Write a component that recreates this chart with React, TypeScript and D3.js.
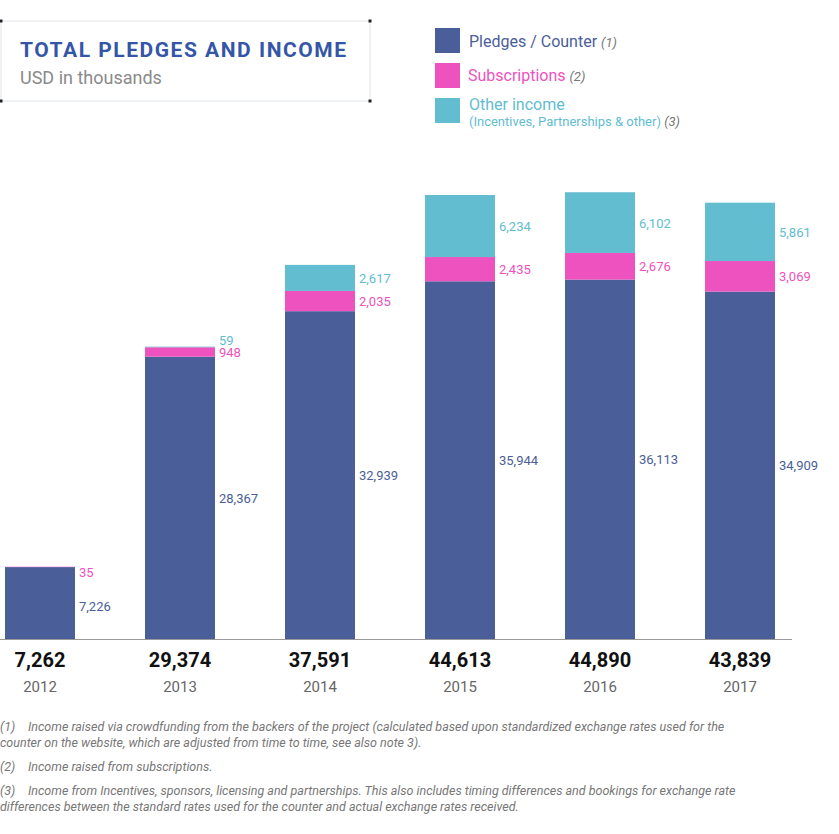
import * as d3 from "d3";

const years = ["2012", "2013", "2014", "2015", "2016", "2017"];
const pledges = [7226, 28367, 32939, 35944, 36113, 34909];
const subscriptions = [35, 948, 2035, 2435, 2676, 3069];
const other = [0, 59, 2617, 6234, 6102, 5861];
const totals = ["7,262", "29,374", "37,591", "44,613", "44,890", "43,839"];
const otherLabels = ["", "59", "2,617", "6,234", "6,102", "5,861"];
const footnotes = [
  ["(1)", "Income raised via crowdfunding from the backers of the project (calculated based upon standardized exchange rates used for the", "counter on the website, which are adjusted from time to time, see also note 3)."],
  ["(2)", "Income raised from subscriptions."],
  ["(3)", "Income from Incentives, sponsors, licensing and partnerships. This also includes timing differences and bookings for exchange rate", "differences between the standard rates used for the counter and actual exchange rates received."],
];

const BLUE = "#4a5e99";
const PINK = "#ee52be";
const TEAL = "#62bdd0";
const FONT = "'Liberation Sans Narrow', 'Roboto', sans-serif";
const fmt = d3.format(",");

export default function App() {
  const W = 839, H = 834;
  const x = d3.scaleBand().domain(years).range([-30, 810]).paddingInner(0.5).paddingOuter(0.25);
  const y = d3.scaleLinear().domain([0, 44613]).range([639, 195]);
  const bw = x.bandwidth();

  return (
    <svg width={W} height={H} style={{ position: "absolute", left: 0, top: 0, fontFamily: FONT }}>
      <rect x={1} y={21} width={369} height={80} fill="#fff" stroke="#dfe4ea" />
      {[[1, 21], [370, 21], [1, 101], [370, 101]].map(([a, b], i) => (
        <rect key={i} x={a - 1.5} y={b - 1.5} width={3} height={3} fill="#222" />
      ))}
      <text x={20} y={57} fill="#3556a8" fontSize={21} fontWeight="bold" textLength={326} fontFamily="Roboto, sans-serif">TOTAL PLEDGES AND INCOME</text>
      <text x={20} y={84} fill="#8a8a8a" fontSize={18}>USD in thousands</text>

      <rect x={435} y={28} width={25} height={25} fill={BLUE} />
      <text x={469} y={47} fill={BLUE} fontSize={16}>Pledges / Counter <tspan fill="#777" fontStyle="italic" fontSize={13}>(1)</tspan></text>
      <rect x={435} y={63} width={25} height={25} fill={PINK} />
      <text x={468} y={81} fill={PINK} fontSize={16}>Subscriptions <tspan fill="#777" fontStyle="italic" fontSize={13}>(2)</tspan></text>
      <rect x={435} y={98} width={25} height={25} fill={TEAL} />
      <text x={469} y={110} fill={TEAL} fontSize={16}>Other income</text>
      <text x={469} y={126} fill={TEAL} fontSize={13}>(Incentives, Partnerships &amp; other) <tspan fill="#777" fontStyle="italic" fontSize={13}>(3)</tspan></text>

      {years.map((yr, i) => {
        const x0 = x(yr)!;
        const p = pledges[i], s = subscriptions[i], o = other[i];
        const yP = y(p), yS = y(p + s), yO = y(p + s + o);
        let sLab = (yP + yS) / 2 + 5;
        let oLab = (yS + yO) / 2 + 5;
        if (sLab - oLab < 12) { sLab = Math.max(sLab, yS + 10); oLab = sLab - 12; }
        return (
          <g key={yr}>
            <rect x={x0} y={yP} width={bw} height={639 - yP} fill={BLUE} />
            <rect x={x0} y={yS} width={bw} height={yP - yS} fill={PINK} />
            {o > 0 && <rect x={x0} y={yO} width={bw} height={yS - yO} fill={TEAL} />}
            <text x={x0 + bw + 4} y={i === 0 ? 611 : (yP + 639) / 2 + 5} fill={BLUE} fontSize={13}>{fmt(p)}</text>
            <text x={x0 + bw + 4} y={sLab} fill={PINK} fontSize={13}>{fmt(s)}</text>
            {o > 0 && <text x={x0 + bw + 4} y={oLab} fill={TEAL} fontSize={13}>{otherLabels[i]}</text>}
            <text x={x0 + bw / 2} y={667} textAnchor="middle" fill="#111" fontSize={20} fontWeight="bold">{totals[i]}</text>
            <text x={x0 + bw / 2} y={692} textAnchor="middle" fill="#666" fontSize={15}>{yr}</text>
          </g>
        );
      })}
      <line x1={0} x2={792} y1={639.5} y2={639.5} stroke="#999" />

      {footnotes.map((f, i) => {
        const top = [731, 771, 795][i];
        return (
          <g key={i} fill="#777" fontSize={12.5} fontStyle="italic">
            <text x={0} y={top}>{f[0]}</text>
            <text x={28} y={top}>{f[1]}</text>
            {f[2] && <text x={0} y={top + 16}>{f[2]}</text>}
          </g>
        );
      })}
    </svg>
  );
}
